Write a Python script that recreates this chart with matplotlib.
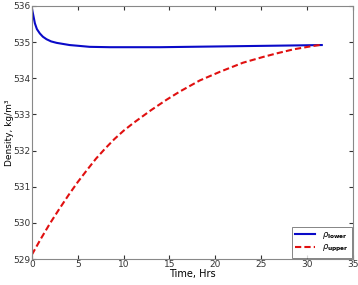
import matplotlib
matplotlib.use("Agg")
import matplotlib.pyplot as plt

# values
t_lower = [0.0, 0.15, 0.33, 0.55, 0.87, 1.2, 1.6, 2.1, 2.7, 3.4, 4.1, 5.0, 6.3, 8.5,
           11.0, 14.0, 17.0, 20.0, 23.0, 26.0, 29.0, 31.6]
rho_lower = [535.94, 535.75, 535.52, 535.36, 535.24, 535.15, 535.08, 535.02, 534.98,
             534.95, 534.92, 534.90, 534.87, 534.86, 534.86, 534.86, 534.87, 534.88,
             534.89, 534.90, 534.91, 534.92]

t_upper = [0.0, 1.0, 1.96, 3.0, 4.0, 5.0, 6.0, 7.0, 8.0, 9.0, 10.0, 11.05, 13.0, 14.7,
           16.1, 18.3, 20.5, 23.0, 25.2, 26.7, 28.5, 30.3, 31.6]
rho_upper = [529.12, 529.57, 529.98, 530.39, 530.77, 531.13, 531.46, 531.78, 532.06,
             532.32, 532.55, 532.76, 533.12, 533.41, 533.63, 533.94, 534.18, 534.43,
             534.59, 534.69, 534.80, 534.88, 534.93]


def plot_density():
    fig = plt.figure(figsize=(3.58, 2.85), dpi=100)
    ax = fig.add_axes([0.089, 0.091, 0.897, 0.888])

    ax.plot(t_lower, rho_lower, color="#0a0ac8", lw=1.5, label=r"$\rho_{\mathbf{lower}}$")
    ax.plot(t_upper, rho_upper, color="#e01010", lw=1.5, ls=(0, (3, 1.5)),
            label=r"$\rho_{\mathbf{upper}}$")

    ax.set_xlim(0, 35)
    ax.set_ylim(529, 536)
    ax.set_xticks(range(0, 36, 5))
    ax.set_yticks(range(529, 537))
    ax.tick_params(direction="in", length=3, labelsize=6.5, colors="#333333",
                   top=True, right=True, pad=1)
    for s in ax.spines.values():
        s.set_color("#888888")
        s.set_linewidth(0.8)

    ax.set_xlabel("Time, Hrs", fontsize=7, labelpad=0)
    ax.set_ylabel("Density, kg/m³", fontsize=6.5)
    ax.yaxis.set_label_coords(-0.057, 0.5)

    leg = ax.legend(loc="lower right", fontsize=6, fancybox=False, handlelength=2.4,
                    borderpad=0.4, labelspacing=0.2, borderaxespad=0.15)
    leg.get_frame().set_edgecolor("#666666")
    leg.get_frame().set_linewidth(0.7)

    fig.savefig("out.png", dpi=100)


if __name__ == "__main__":
    plot_density()
